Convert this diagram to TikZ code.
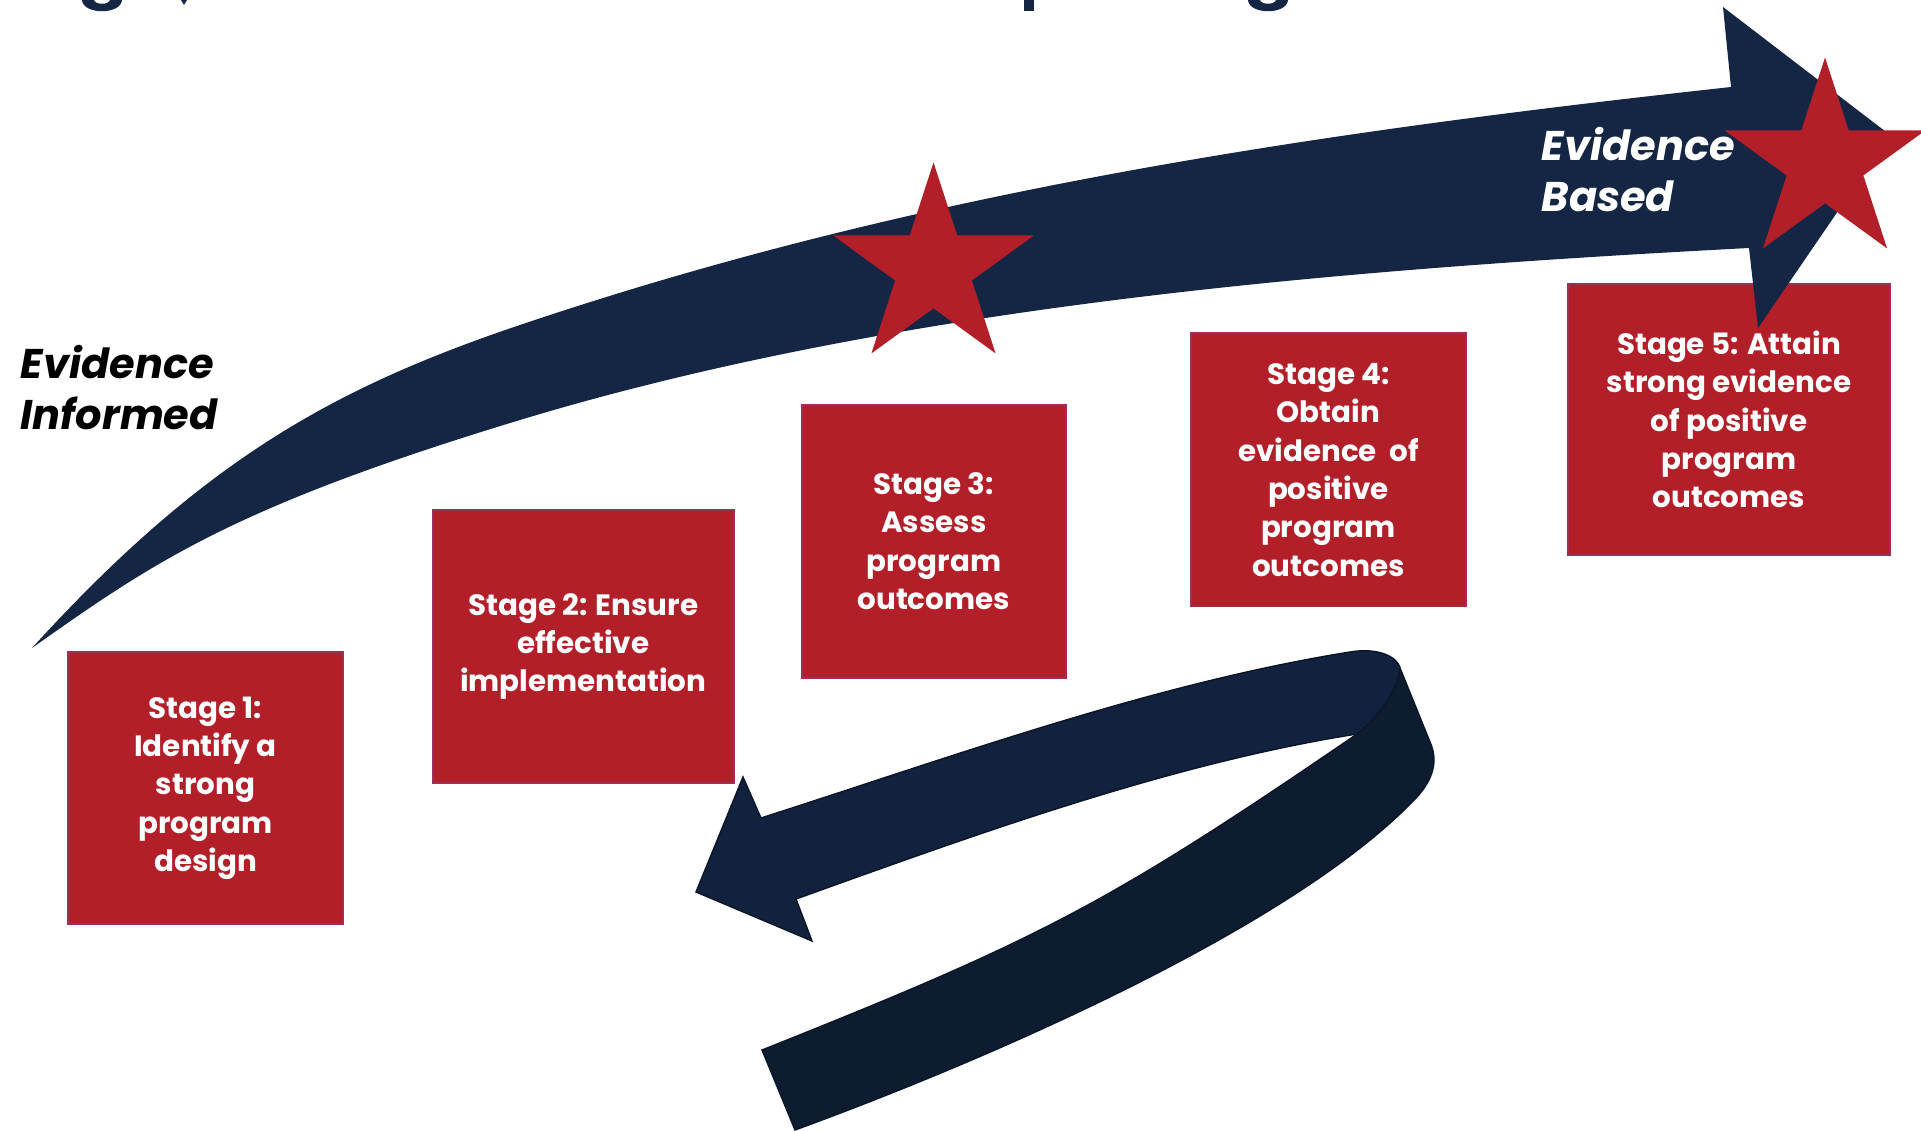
\documentclass[tikz,border=0pt]{standalone}
\usepackage{fontspec}
\setmainfont{Poppins}
\usepackage{tikz}
\usetikzlibrary{shapes.geometric}
\definecolor{b0}{HTML}{142644}
\definecolor{b1}{HTML}{12223E}
\definecolor{b2}{HTML}{0E1C32}
\definecolor{b3}{HTML}{0A1527}
\definecolor{r0}{HTML}{B31F29}
\definecolor{r1}{HTML}{9E2F58}

\begin{document}
\begin{tikzpicture}[x=0.01cm,y=-0.01cm,
  stagebox/.style={rectangle,fill=r0,draw=r1,line width=0.5pt,inner sep=0pt,text=white,align=center,font=\bfseries\fontsize{8.35}{10.9}\selectfont},
  redstar/.style={star,star points=5,star point ratio=2.618,fill=r0,inner sep=0pt,minimum size=2.11cm},
  bigtext/.style={inner sep=0pt,align=left,font=\bfseries\itshape\fontsize{11.8}{14.7}\selectfont}]

\fill[white] (0,0) rectangle (1921,1131);
\useasboundingbox (0,0) rectangle (1921,1131);

%bits of the title above
\fill[b0] (82,0) .. controls (83,15) and (121,15) .. (122,0) -- (110,0) .. controls (109,5) and (95,5) .. (94,0) -- cycle;
\fill[b0] (181,0) -- (187,0) -- (184,5) -- cycle;
\fill[b0] (1024,0) rectangle (1034,11);
\fill[b0] (1248,0) .. controls (1249,15) and (1287,15) .. (1288,0) -- (1276,0) .. controls (1275,5) and (1261,5) .. (1260,0) -- cycle;

\node[stagebox,minimum width=2.744cm,minimum height=2.723cm] (s1) at (205.5,788) {Stage 1:\\Identify a\\strong\\program\\design};
\node[stagebox,minimum width=3.011cm,minimum height=2.728cm] (s2) at (583.3,646.4) {Stage 2: Ensure\\effective\\implementation};
\node[stagebox,minimum width=2.641cm,minimum height=2.725cm] (s3) at (933.8,541.3) {Stage 3:\\Assess\\program\\outcomes};
\node[stagebox,minimum width=2.747cm,minimum height=2.731cm] (s4) at (1328.4,469.9) {Stage 4:\\Obtain\\evidence\ \ of\\positive\\program\\outcomes};
\node[stagebox,minimum width=3.22cm,minimum height=2.71cm] (s5) at (1729,419.6) {Stage 5: Attain\\strong evidence\\of positive\\program\\outcomes};

\fill[b0] (32,648) .. controls (200.5,463) and (330,389) .. (520,325)
  .. controls (918,190.6) and (1313.5,132.8) .. (1731,87)
  -- (1723,7) -- (1890,135) -- (1758,328) -- (1749,248)
  .. controls (1349.6,269) and (902.8,304) .. (520,420)
  .. controls (233,507) and (154.6,561.4) .. (32,648) -- cycle;

\node[redstar] (st1) at (933.5,268) {};
\node[redstar] (st2) at (1825,163) {};

\node[bigtext,anchor=base west] (ei) at (20,430) {Evidence\\Informed};
\node[bigtext,anchor=base west,text=white] (eb) at (1541,212) {Evidence\\Based};

\filldraw[fill=b2,draw=b3,line width=0.4pt] (1400,668) -- (1430,742)
  .. controls (1438,760) and (1434,778) .. (1417,797)
  .. controls (1293.5,928) and (983,1061.4) .. (795,1130)
  -- (762,1050)
  .. controls (1040.7,939) and (1109.5,903.5) .. (1357,734)
  .. controls (1380,715) and (1398,690) .. (1400,668) -- cycle;
\filldraw[fill=b1,draw=b3,line width=0.4pt] (696,892) -- (743,777) -- (761,818)
  .. controls (951.6,757) and (1152.6,683.6) .. (1350,652)
  .. controls (1380,647) and (1398,658) .. (1400,668)
  .. controls (1398,690) and (1380,715) .. (1357,734)
  .. controls (1169.3,763.6) and (974.8,834.8) .. (796,899)
  -- (812,941) -- cycle;

\end{tikzpicture}
\end{document}
